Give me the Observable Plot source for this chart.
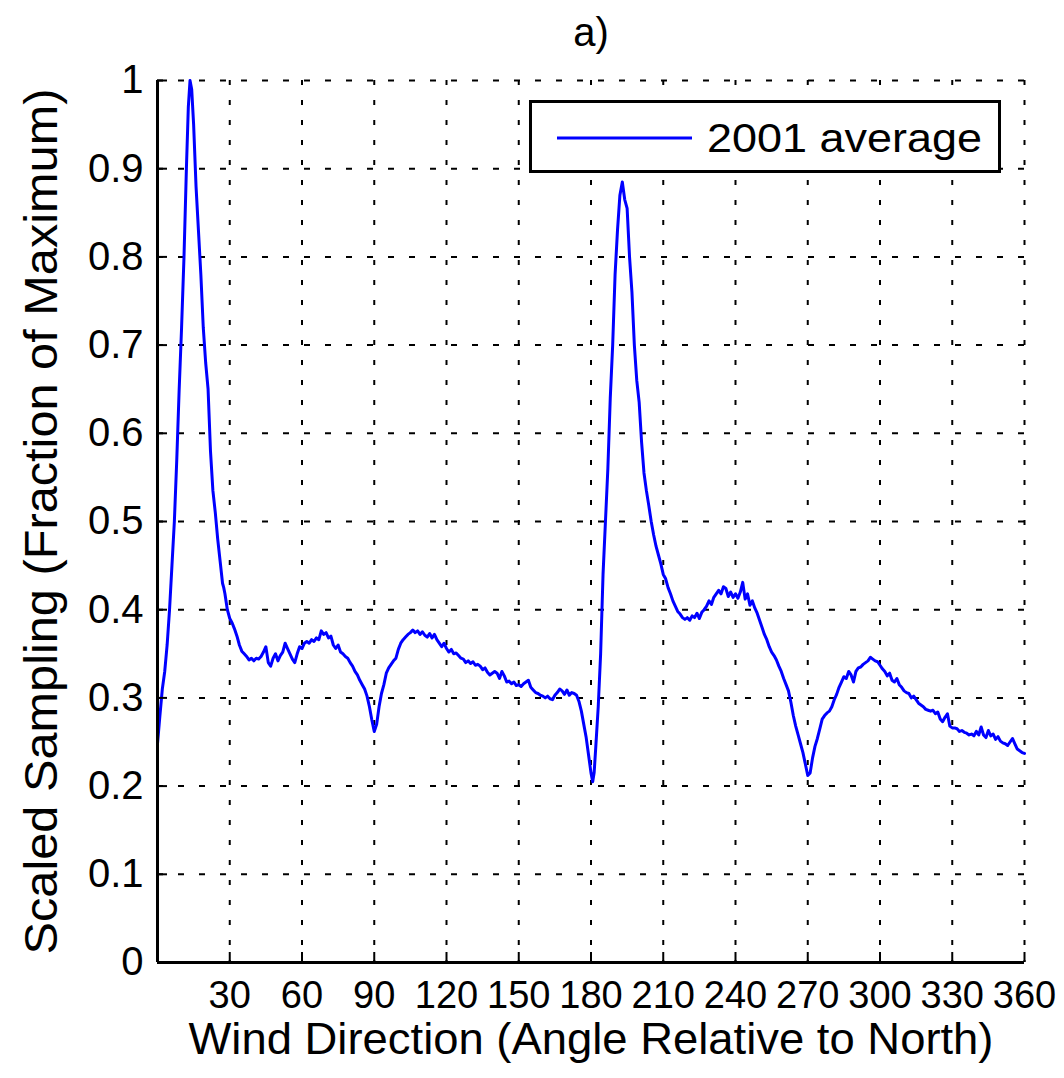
<!DOCTYPE html>
<html><head><meta charset="utf-8">
<script src="https://cdn.jsdelivr.net/npm/d3@7"></script>
<script src="https://cdn.jsdelivr.net/npm/@observablehq/plot@0.6"></script>
<style>
body{margin:0;background:#fff;}
#wrap{position:relative;width:1064px;height:1078px;}
#legend{position:absolute;left:529px;top:100px;width:472px;height:73px;box-sizing:border-box;border:3px solid #000;background:#fff;}
</style></head><body><div id="wrap"></div><script>
const titleText = "a)";
const xLabel = "Wind Direction (Angle Relative to North)";
const yLabel = "Scaled Sampling (Fraction of Maximum)";
const seriesName = "2001 average";
const xTicks = [30, 60, 90, 120, 150, 180, 210, 240, 270, 300, 330, 360];
const yTicks = [0, 0.1, 0.2, 0.3, 0.4, 0.5, 0.6, 0.7, 0.8, 0.9, 1];

const angles = [0,1,2,3,4,5,6,7,8,9,10,11,12,12.8,13.5,14.2,15,16,17,18,19,20,21,22,23,24,25,26,27,27.5,28,29,
30,31,32,33,34,35,36,37,38,39,40,41,42,43,44,45,46,47,48,49,50,51,52,53,54,55,56,57,58,59,
60,61,62,63,64,65,66,67,68,69,70,71,72,73,74,75,76,77,78,79,80,81,82,83,84,85,86,87,88,89,
90,91,92,93,94,95,96,97,98,99,100,101,102,103,104,105,106,107,108,109,110,111,112,113,114,115,116,117,118,119,
120,121,122,123,124,125,126,127,128,129,130,131,132,133,134,135,136,137,138,139,140,141,142,143,144,145,146,147,148,149,
150,151,152,153,154,155,156,157,158,159,160,161,162,163,164,165,166,167,168,169,170,171,172,173,174,175,176,177,178,179,
180,180.7,181.3,182,183,184,185,186,187,188,189,190,191,192,193,194,195,196,197,198,199,200,201,202,203,204,205,206,207,208,209,
210,211,212,213,214,215,216,217,218,219,220,221,222,223,224,225,226,227,228,229,230,231,232,233,234,235,236,237,238,239,
240,241,242,243,244,245,246,247,248,249,250,251,252,253,254,255,256,257,258,259,260,261,262,263,264,265,266,267,268,269,
270,271,272,273,274,275,276,277,278,279,280,281,282,283,284,285,286,287,288,289,290,291,292,293,294,295,296,297,298,299,
300,301,302,303,304,305,306,307,308,309,310,311,312,313,314,315,316,317,318,319,320,321,322,323,324,325,326,327,328,329,
330,331,332,333,334,335,336,337,338,339,340,341,342,343,344,345,346,347,348,349,350,351,352,353,354,355,356,357,358,359,360];

const sampling = [0.248,0.28,0.31,0.33,0.36,0.40,0.45,0.50,0.57,0.65,0.72,0.80,0.90,0.97,1.0,0.99,0.95,0.88,0.83,0.78,0.72,0.68,0.65,0.58,0.535,0.51,0.48,0.455,0.43,0.425,0.418,0.40,
0.39,0.385,0.378,0.37,0.36,0.353,0.35,0.347,0.343,0.345,0.342,0.345,0.344,0.347,0.352,0.358,0.340,0.336,0.345,0.350,0.342,0.348,0.352,0.362,0.356,0.350,0.344,0.340,0.350,0.358,
0.356,0.362,0.364,0.362,0.366,0.364,0.368,0.366,0.376,0.372,0.374,0.368,0.370,0.360,0.356,0.360,0.352,0.350,0.347,0.345,0.340,0.336,0.330,0.326,0.320,0.315,0.310,0.302,0.290,0.275,
0.262,0.270,0.290,0.305,0.315,0.328,0.334,0.338,0.342,0.345,0.355,0.362,0.366,0.369,0.372,0.374,0.377,0.374,0.376,0.372,0.375,0.371,0.369,0.373,0.368,0.372,0.366,0.362,0.358,0.362,
0.356,0.352,0.355,0.350,0.351,0.348,0.345,0.344,0.340,0.342,0.339,0.341,0.337,0.338,0.336,0.332,0.334,0.329,0.326,0.328,0.330,0.328,0.322,0.330,0.325,0.318,0.319,0.316,0.318,0.314,
0.315,0.313,0.316,0.318,0.320,0.312,0.309,0.306,0.305,0.303,0.302,0.300,0.302,0.299,0.298,0.303,0.306,0.310,0.308,0.304,0.309,0.303,0.306,0.305,0.303,0.296,0.285,0.270,0.255,0.235,
0.215,0.205,0.215,0.245,0.29,0.35,0.44,0.50,0.56,0.64,0.70,0.78,0.83,0.87,0.885,0.865,0.855,0.80,0.76,0.70,0.66,0.635,0.59,0.555,0.535,0.518,0.50,0.485,0.472,0.462,0.452,
0.44,0.435,0.425,0.418,0.410,0.404,0.398,0.395,0.391,0.389,0.391,0.388,0.393,0.391,0.396,0.390,0.397,0.400,0.404,0.410,0.406,0.414,0.418,0.422,0.418,0.426,0.424,0.415,0.420,0.414,
0.418,0.413,0.420,0.431,0.412,0.418,0.405,0.410,0.402,0.396,0.388,0.380,0.372,0.366,0.358,0.352,0.348,0.343,0.336,0.330,0.322,0.315,0.308,0.295,0.280,0.268,0.258,0.248,0.238,0.225,
0.212,0.215,0.232,0.245,0.254,0.265,0.276,0.280,0.283,0.285,0.290,0.298,0.304,0.312,0.318,0.324,0.322,0.330,0.326,0.318,0.330,0.334,0.335,0.338,0.340,0.342,0.346,0.344,0.342,0.341,
0.337,0.333,0.330,0.325,0.328,0.320,0.318,0.322,0.315,0.312,0.308,0.306,0.305,0.300,0.302,0.298,0.294,0.292,0.290,0.287,0.286,0.285,0.286,0.282,0.284,0.276,0.273,0.278,0.282,0.268,
0.266,0.266,0.265,0.262,0.263,0.261,0.260,0.258,0.259,0.257,0.262,0.258,0.267,0.258,0.255,0.263,0.257,0.259,0.253,0.256,0.251,0.249,0.248,0.246,0.250,0.254,0.248,0.242,0.240,0.238,0.237];

const data = angles.map((a, i) => ({angle: a, value: sampling[i]}));
const font = '"Liberation Sans", Arial, Helvetica, sans-serif';
const W = 1064, H = 1078, mL = 157, mR = 40, mT = 80, mB = 116;
const frameW = W - mL - mR, frameH = H - mT - mB;
const tickLen = 10;

const chart = Plot.plot({
  width: W, height: H,
  marginLeft: mL, marginRight: mR, marginTop: mT, marginBottom: mB,
  x: {domain: [0, 360]},
  y: {domain: [0, 1]},
  style: {fontFamily: font, fontSize: "40px", color: "#000", background: "transparent", overflow: "visible"},
  marks: [
    Plot.gridX(xTicks, {stroke: "#000", strokeOpacity: 1, strokeWidth: 2, strokeDasharray: "5,15"}),
    Plot.gridY(yTicks.filter(d => d > 0), {stroke: "#000", strokeOpacity: 1, strokeWidth: 2, strokeDasharray: "6,15"}),
    Plot.line(data, {x: "angle", y: "value", stroke: "#0000ff", strokeWidth: 3}),
    Plot.tickX(xTicks, {x: d => d, insetTop: frameH - tickLen, stroke: "#000", strokeWidth: 2}),
    Plot.tickY(yTicks, {y: d => d, insetRight: frameW - tickLen, stroke: "#000", strokeWidth: 2}),
    Plot.ruleX([0], {stroke: "#000", strokeWidth: 3}),
    Plot.ruleY([0], {stroke: "#000", strokeWidth: 3}),
    Plot.axisX(xTicks, {tickSize: 0, tickPadding: 19, fontSize: 38, label: null}),
    Plot.axisY(yTicks, {tickSize: 0, tickPadding: 14, fontSize: 40, label: null, tickFormat: d => String(d)}),
    Plot.text([titleText], {text: d => d, frameAnchor: "top", dy: -63, fontSize: 40}),
    Plot.text([xLabel], {text: d => d, frameAnchor: "bottom", dy: 91, fontSize: 45}),
    Plot.text([yLabel], {text: d => d, frameAnchor: "left", dx: -115, rotate: -90, fontSize: 46})
  ]
});

chart.querySelectorAll("text").forEach(t => {
  if (t.textContent === xLabel) { t.setAttribute("textLength", 805); t.setAttribute("lengthAdjust", "spacingAndGlyphs"); }
  if (t.textContent === yLabel) {
    t.setAttribute("text-anchor", "start");
    t.setAttribute("x", -433);
    t.setAttribute("textLength", 866);
    t.setAttribute("lengthAdjust", "spacingAndGlyphs");
  }
});

const wrap = document.getElementById("wrap");
wrap.appendChild(chart);

const legend = document.createElement("div");
legend.id = "legend";
legend.innerHTML = `<svg width="466" height="67" style="display:block">
  <line x1="25" x2="160" y1="35" y2="35" stroke="#0000ff" stroke-width="3"></line>
  <text x="175" y="49" font-family='${font}' font-size="40" textLength="275" lengthAdjust="spacingAndGlyphs">${seriesName}</text>
</svg>`;
wrap.appendChild(legend);
</script></body></html>
